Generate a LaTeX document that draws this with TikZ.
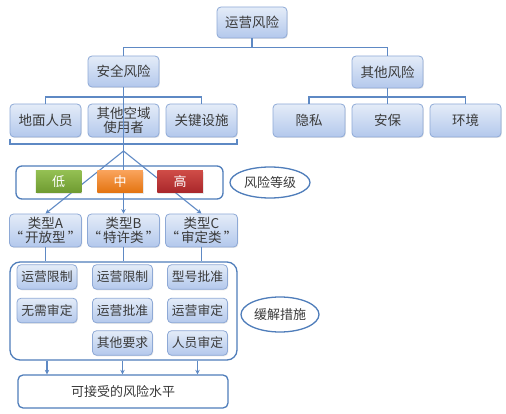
\documentclass[tikz,border=0pt]{standalone}
\usepackage{fontspec}
\newfontfamily\cjk{Noto Sans CJK SC}
\usetikzlibrary{arrows.meta,shapes.geometric,shadows}
\definecolor{boxtop}{HTML}{E4ECF8}
\definecolor{boxbot}{HTML}{B3C8EC}
\definecolor{boxline}{HTML}{8EA9D6}
\definecolor{conn}{HTML}{5E89C4}
\definecolor{frame}{HTML}{4F7DBA}
\definecolor{txt}{HTML}{3A3A3A}
\definecolor{lowT}{HTML}{93BF52}
\definecolor{lowB}{HTML}{6E9A30}
\definecolor{midT}{HTML}{F9A25A}
\definecolor{midB}{HTML}{E3730F}
\definecolor{highT}{HTML}{CE4B46}
\definecolor{highB}{HTML}{A8262A}
\tikzset{
  bluebox/.style={draw=boxline, line width=0.8pt, rounded corners=4pt,
    top color=boxtop, bottom color=boxbot, text=txt, align=center,
    font=\cjk\fontsize{13.5}{14.5}\selectfont, inner sep=0pt,
    drop shadow={opacity=0.18, shadow xshift=0.8pt, shadow yshift=-1pt}},
  smallbox/.style={bluebox, minimum width=60pt, minimum height=24.5pt,
    font=\cjk\fontsize{12.8}{14}\selectfont},
  levelbox/.style={draw=none, inner sep=0pt, text=white,
    minimum width=45.5pt, minimum height=22pt,
    font=\cjk\fontsize{13}{14}\selectfont,
    drop shadow={opacity=0.18, shadow xshift=0.8pt, shadow yshift=-1pt}},
  framebox/.style={draw=frame, line width=1.3pt, fill=white, inner sep=0pt},
  tag/.style={ellipse, draw=frame, line width=1.3pt, fill=white, inner sep=0pt,
    text=txt, font=\cjk\fontsize{13}{14}\selectfont},
  conline/.style={draw=conn, line width=1.1pt},
  arr/.style={conline, -{Stealth[length=4.5pt,width=4.5pt]}}
}
\begin{document}
\begin{tikzpicture}[x=1pt,y=-1pt]
\useasboundingbox (0,0) rectangle (506,414);
% top tree
\node[bluebox, minimum width=70pt, minimum height=31pt] (top) at (252,22.5) {运营风险};
\node[bluebox, minimum width=71pt, minimum height=31pt] (safe) at (123.5,71.5) {安全风险};
\node[bluebox, minimum width=71pt, minimum height=32pt] (oth) at (387.5,72) {其他风险};
\node[bluebox, minimum width=71pt, minimum height=33pt] (g1) at (45.5,120.5) {地面人员};
\node[bluebox, minimum width=71pt, minimum height=33pt] (g2) at (123.5,120.5) {其他空域\\使用者};
\node[bluebox, minimum width=71pt, minimum height=33pt] (g3) at (201.5,120.5) {关键设施};
\node[bluebox, minimum width=72pt, minimum height=33pt] (o1) at (309,120.5) {隐私};
\node[bluebox, minimum width=71pt, minimum height=33pt] (o2) at (387.5,120.5) {安保};
\node[bluebox, minimum width=71pt, minimum height=33pt] (o3) at (465.5,120.5) {环境};
\coordinate (b1) at (252,47.5);
\coordinate (b2) at (123.5,97);
\coordinate (b3) at (387.5,97);
\draw[conline] (top.south) -- (b1) -| (safe.north);
\draw[conline] (b1) -| (oth.north);
\draw[conline] (b2) -| (g1.north);
\draw[conline] (b2) -| (g3.north);
\draw[conline] (b3) -| (o1.north);
\draw[conline] (b3) -| (o3.north);
\draw[conline] (oth.south) -- (o2.north);
% bracket
\coordinate (brL) at (10,139);
\coordinate (brR) at (237,139);
\coordinate (brM) at (123.5,144);
\coordinate (apex) at (123.5,151);
\draw[conline] (brL) -- (brL |- brM) -- (brR |- brM) -- (brR);
% risk level frame
\node[framebox, rounded corners=6pt, minimum width=207pt, minimum height=33pt] (lvl) at (119.5,182.5) {};
% type boxes
\node[bluebox, minimum width=71pt, minimum height=33pt] (ta) at (45.5,230.5) {类型A\\“\,开放型\,”};
\node[bluebox, minimum width=71pt, minimum height=33pt] (tb) at (123.5,230.5) {类型B\\“\,特许类\,”};
\node[bluebox, minimum width=71pt, minimum height=33pt] (tc) at (201.5,230.5) {类型C\\“\,审定类\,”};
% fan lines
\draw[conline] (safe.south) -- (brM) -- (apex);
\draw[arr] (apex) -- (ta.north);
\draw[arr] (apex) -- (tb.north);
\draw[arr] (apex) -- (tc.north);
% level boxes
\node[levelbox, top color=lowT, bottom color=lowB] (lo) at (58.5,182) {低};
\node[levelbox, top color=midT, bottom color=midB] (mi) at (120,182) {中};
\node[levelbox, top color=highT, bottom color=highB] (hi) at (180,182) {高};
\node[tag, minimum width=80pt, minimum height=31pt] (lvtag) at (270,182.5) {风险等级};
% mitigation frame
\node[framebox, rounded corners=10pt, minimum width=227pt, minimum height=98pt] (mit) at (123.5,311) {};
\draw[conline] (ta.south) -- (ta.south |- mit.north);
\draw[conline] (tb.south) -- (tb.south |- mit.north);
\draw[conline] (tc.south) -- (tc.south |- mit.north);
\node[smallbox] (m11) at (47,277) {运营限制};
\node[smallbox] (m12) at (47,310.5) {无需审定};
\node[smallbox] (m21) at (122.5,277) {运营限制};
\node[smallbox] (m22) at (122.5,310.5) {运营批准};
\node[smallbox] (m23) at (122.5,343) {其他要求};
\node[smallbox] (m31) at (197.5,277) {型号批准};
\node[smallbox] (m32) at (197.5,310.5) {运营审定};
\node[smallbox] (m33) at (197.5,343) {人员审定};
\node[tag, minimum width=78pt, minimum height=35pt] (mtag) at (280,314.5) {缓解措施};
% final
\node[framebox, rounded corners=5pt, minimum width=210pt, minimum height=33pt,
  text=txt, font=\cjk\fontsize{13}{14}\selectfont] (fin) at (123,391.5) {可接受的风险水平};
\draw[arr] (m12.south |- mit.south) -- (m12.south |- fin.north);
\draw[arr] (m23.south |- mit.south) -- (m23.south |- fin.north);
\draw[arr] (m33.south |- mit.south) -- (m33.south |- fin.north);
\end{tikzpicture}
\end{document}
